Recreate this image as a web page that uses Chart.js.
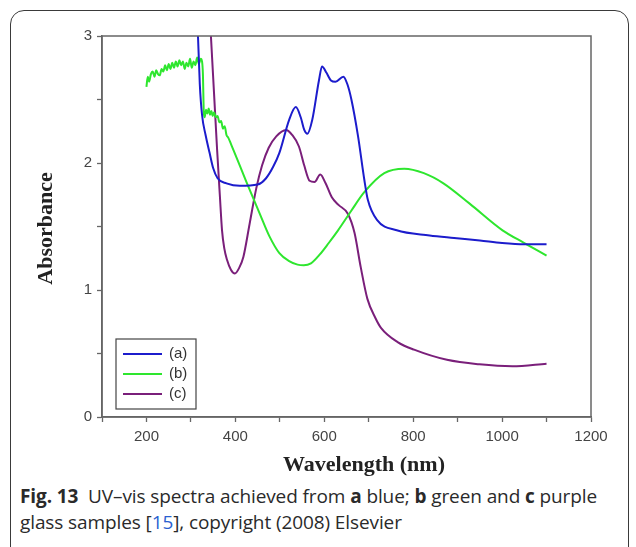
<!DOCTYPE html>
<html>
<head>
<meta charset="utf-8">
<script src="https://cdn.jsdelivr.net/npm/chart.js@4.4.1/dist/chart.umd.min.js"></script>
<style>
  body { margin: 0; background: #fff; width: 636px; height: 547px; overflow: hidden; position: relative; }
  #frame { position: absolute; left: 10px; top: 10px; width: 619px; height: 570px; border: 1.3px solid #3a3a3a; border-radius: 14px; box-sizing: border-box; }
  #wrap { position: absolute; left: 0; top: 0; width: 636px; height: 480px; }
  #caption { position: absolute; left: 20px; top: 483px; width: 606px; font-family: "Open Sans", "Noto Sans", sans-serif; font-size: 19px; line-height: 26px; color: #2a2a2a; letter-spacing: -0.1px; }
  #caption b { font-weight: 700; }
  #caption .ref { color: #2a5fd0; }
</style>
</head>
<body>
<div id="frame"></div>
<div id="wrap"><canvas id="spectra" width="636" height="480"></canvas></div>
<div id="caption"><b>Fig. 13</b>&nbsp; UV–vis spectra achieved from <b>a</b> blue; <b>b</b> green and <b>c</b> purple<br>glass samples [<span class="ref">15</span>], copyright (2008) Elsevier</div>
<script>
// (a) blue glass
var blueX = [310, 316, 320, 325, 333, 342, 350, 360, 380, 410, 450, 469, 485, 499, 521, 536, 547, 555, 562, 573, 588, 595, 605, 615, 625, 643, 652, 661, 676, 690, 698, 719, 763, 837, 892, 950, 1000, 1050, 1100];
var blueY = [3.3, 2.99, 2.62, 2.38, 2.22, 2.08, 1.96, 1.88, 1.84, 1.82, 1.83, 1.88, 1.97, 2.08, 2.34, 2.44, 2.36, 2.26, 2.23, 2.34, 2.65, 2.76, 2.71, 2.65, 2.64, 2.68, 2.62, 2.5, 2.21, 1.87, 1.71, 1.55, 1.47, 1.43, 1.41, 1.39, 1.37, 1.36, 1.36];

// (b) green glass
var greenX = [200, 203, 206, 210, 214, 218, 222, 226, 230, 234, 238, 242, 246, 250, 254, 258, 262, 266, 270, 274, 278, 282, 286, 290, 294, 298, 302, 306, 310, 314, 318, 322, 325, 327, 329, 331, 334, 337, 340, 343, 346, 349, 352, 356, 360, 364, 368, 372, 376, 380, 384, 390, 396, 425, 455, 477, 499, 520, 540, 554, 570, 590, 610, 631, 660, 690, 735, 780, 824, 868, 927, 1001, 1050, 1100];
var greenY = [2.6, 2.68, 2.64, 2.7, 2.72, 2.68, 2.73, 2.7, 2.69, 2.74, 2.72, 2.77, 2.73, 2.78, 2.74, 2.79, 2.75, 2.8, 2.76, 2.81, 2.77, 2.8, 2.74, 2.79, 2.76, 2.82, 2.75, 2.8, 2.77, 2.83, 2.78, 2.82, 2.8, 2.7, 2.4, 2.36, 2.42, 2.39, 2.43, 2.38, 2.41, 2.37, 2.4, 2.36, 2.37, 2.32, 2.33, 2.27, 2.29, 2.22, 2.2, 2.15, 2.1, 1.85, 1.6, 1.42, 1.29, 1.23, 1.2, 1.195, 1.21, 1.28, 1.37, 1.47, 1.62, 1.77, 1.92, 1.955, 1.92, 1.84, 1.68, 1.47, 1.37, 1.27];

// (c) purple glass
var purpleX = [340, 345, 352, 359, 365, 370, 375, 381, 390, 399, 408, 418, 432, 447, 460, 475, 492, 514, 528, 543, 555, 567, 578, 591, 603, 617, 632, 653, 668, 682, 697, 715, 728, 765, 802, 876, 949, 1023, 1100];
var purpleY = [3.3, 3.0, 2.55, 2.1, 1.75, 1.47, 1.33, 1.24, 1.16, 1.13, 1.17, 1.26, 1.52, 1.8, 1.98, 2.12, 2.21, 2.26, 2.22, 2.13, 1.98, 1.86, 1.85, 1.91, 1.84, 1.73, 1.67, 1.6, 1.45, 1.18, 0.93, 0.78, 0.7, 0.59, 0.53, 0.45, 0.415, 0.4, 0.42];

var seriesLabels = ['(a)', '(b)', '(c)'];
var seriesColors = ['#1c1ccc', '#2ee62e', '#7a1f7a'];

function toPoints(xs, ys) {
    return xs.map(function (x, i) { return { x: x, y: ys[i] }; });
}

// top and right border of the plot box
var frameBox = {
    id: 'frameBox',
    afterDatasetsDraw: function (chart) {
        var a = chart.chartArea, ctx = chart.ctx;
        ctx.save();
        ctx.strokeStyle = '#666';
        ctx.lineWidth = 1.5;
        ctx.strokeRect(a.left, a.top, a.right - a.left, a.bottom - a.top);
        ctx.restore();
    }
};

// axis titles + boxed legend inside the plot
var extras = {
    id: 'extras',
    afterDraw: function (chart) {
        var ctx = chart.ctx, a = chart.chartArea;
        ctx.save();
        ctx.fillStyle = '#222';
        ctx.font = 'bold 22px "Liberation Serif", "DejaVu Serif", serif';
        ctx.textAlign = 'center';
        ctx.textBaseline = 'middle';
        ctx.fillText('Wavelength (nm)', 364, 465);
        ctx.translate(46, (a.top + a.bottom) / 2 + 2);
        ctx.rotate(-Math.PI / 2);
        ctx.fillText('Absorbance', 0, 0);
        ctx.restore();

        ctx.save();
        var bx = 116, by = 339, bw = 80, bh = 70;
        ctx.fillStyle = '#fff';
        ctx.fillRect(bx, by, bw, bh);
        ctx.strokeStyle = '#444';
        ctx.lineWidth = 1.2;
        ctx.strokeRect(bx, by, bw, bh);
        ctx.font = '15px "Liberation Sans", Arial, sans-serif';
        ctx.textBaseline = 'middle';
        ctx.textAlign = 'left';
        chart.data.datasets.forEach(function (ds, i) {
            var y = by + 15 + i * 20;
            ctx.strokeStyle = ds.borderColor;
            ctx.lineWidth = 2;
            ctx.beginPath();
            ctx.moveTo(bx + 7, y);
            ctx.lineTo(bx + 46, y);
            ctx.stroke();
            ctx.fillStyle = '#333';
            ctx.fillText(ds.label, bx + 53, y);
        });
        ctx.restore();
    }
};

var datasets = [
    { x: blueX, y: blueY },
    { x: greenX, y: greenY },
    { x: purpleX, y: purpleY }
].map(function (s, i) {
    return {
        label: seriesLabels[i],
        data: toPoints(s.x, s.y),
        borderColor: seriesColors[i],
        backgroundColor: seriesColors[i],
        borderWidth: 2,
        pointRadius: 0,
        cubicInterpolationMode: 'monotone',
        clip: 0,
        fill: false
    };
});

var tickFont = { family: '"Liberation Sans", Arial, sans-serif', size: 15 };

new Chart(document.getElementById('spectra'), {
    type: 'line',
    data: { datasets: datasets },
    options: {
        responsive: false,
        animation: false,
        layout: { padding: { left: 0, right: 45, top: 36, bottom: 0 } },
        plugins: { legend: { display: false }, tooltip: { enabled: false } },
        scales: {
            x: {
                type: 'linear',
                min: 100,
                max: 1200,
                afterFit: function (axis) { axis.height = 63; },
                grid: { drawOnChartArea: false, color: '#666', tickLength: 5, tickWidth: 1.3 },
                border: { color: '#666', width: 1.5 },
                ticks: {
                    stepSize: 100,
                    autoSkip: false,
                    maxRotation: 0,
                    padding: 6,
                    color: '#444',
                    font: tickFont,
                    callback: function (v) { return v % 200 === 0 ? String(v) : ''; }
                }
            },
            y: {
                min: 0,
                max: 3,
                afterFit: function (axis) { axis.width = 102; },
                grid: { drawOnChartArea: false, color: '#666', tickLength: 5, tickWidth: 1.3 },
                border: { color: '#666', width: 1.5 },
                ticks: {
                    stepSize: 0.5,
                    padding: 5,
                    color: '#444',
                    font: tickFont,
                    callback: function (v) { return Number.isInteger(v) ? String(v) : ''; }
                }
            }
        }
    },
    plugins: [frameBox, extras]
});
</script>
</body>
</html>
